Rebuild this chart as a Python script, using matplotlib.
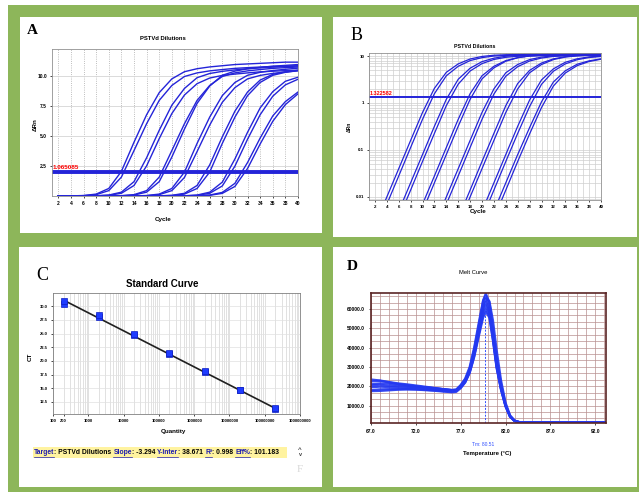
import numpy as np
import matplotlib
matplotlib.use('Agg')
import matplotlib.pyplot as plt
from matplotlib.patches import Rectangle
from matplotlib.lines import Line2D
from matplotlib.ticker import MultipleLocator, LogLocator, NullFormatter

plt.rcParams['font.family'] = ['Liberation Sans', 'DejaVu Sans']
plt.rcParams['font.weight'] = 'bold'

# ---- amplification data (panels A and B share the same run) ----
cycles = [2, 4, 6, 8, 10, 12, 14, 16, 18, 20, 22, 24, 26, 28, 30, 32, 34, 36, 38, 40]
drn_1a = [0.0025, 0.01, 0.04, 0.16, 0.63, 2.06, 4.5, 6.8, 8.65, 9.8, 10.4, 10.65, 10.8, 10.9, 11.0, 11.05, 11.1, 11.15, 11.2, 11.2]
drn_1b = [0.0018, 0.007, 0.028, 0.113, 0.45, 1.58, 3.8, 6.05, 8.0, 9.25, 10.0, 10.3, 10.47, 10.58, 10.68, 10.74, 10.79, 10.84, 10.87, 10.9]
drn_2a = [0.0003, 0.00125, 0.005, 0.02, 0.08, 0.32, 1.2, 3.2, 5.5, 7.6, 9.0, 9.9, 10.25, 10.43, 10.55, 10.65, 10.72, 10.78, 10.83, 10.87]
drn_2b = [0.0002, 0.0009, 0.0035, 0.014, 0.057, 0.226, 0.88, 2.52, 4.8, 6.9, 8.45, 9.4, 9.87, 10.09, 10.2, 10.3, 10.39, 10.44, 10.49, 10.53]
drn_3a = [0.0, 0.0001, 0.0004, 0.0018, 0.007, 0.028, 0.113, 0.45, 1.58, 3.8, 6.05, 8.0, 9.25, 10.0, 10.3, 10.47, 10.58, 10.68, 10.74, 10.79]
drn_3b = [0.0, 0.0001, 0.0003, 0.00125, 0.005, 0.02, 0.08, 0.32, 1.2, 3.26, 5.6, 7.75, 9.2, 10.1, 10.45, 10.64, 10.76, 10.86, 10.93, 11.0]
drn_4a = [0.0, 0.0, 0.0, 0.0001, 0.0006, 0.0025, 0.01, 0.04, 0.16, 0.63, 2.0, 4.4, 6.6, 8.4, 9.5, 10.1, 10.35, 10.5, 10.6, 10.7]
drn_4b = [0.0, 0.0, 0.0, 0.0001, 0.0004, 0.0018, 0.007, 0.028, 0.113, 0.45, 1.55, 3.72, 5.93, 7.84, 9.07, 9.8, 10.09, 10.26, 10.37, 10.47]
drn_5a = [0.0, 0.0, 0.0, 0.0, 0.0001, 0.0002, 0.0009, 0.0035, 0.014, 0.057, 0.226, 0.88, 2.6, 4.95, 7.1, 8.7, 9.7, 10.18, 10.4, 10.52]
drn_5b = [0.0, 0.0, 0.0, 0.0, 0.0, 0.0001, 0.0006, 0.0025, 0.01, 0.04, 0.16, 0.63, 2.0, 4.4, 6.6, 8.4, 9.5, 10.1, 10.35, 10.5]
drn_6a = [0.0, 0.0, 0.0, 0.0, 0.0, 0.0, 0.0001, 0.0003, 0.00125, 0.005, 0.02, 0.08, 0.32, 1.16, 3.1, 5.33, 7.37, 8.73, 9.6, 9.94]
drn_6b = [0.0, 0.0, 0.0, 0.0, 0.0, 0.0, 0.0, 0.0002, 0.0009, 0.0035, 0.014, 0.057, 0.226, 0.84, 2.5, 4.75, 6.8, 8.35, 9.3, 9.77]
drn_7a = [0.0, 0.0, 0.0, 0.0, 0.0, 0.0, 0.0, 0.0, 0.0003, 0.00125, 0.005, 0.02, 0.08, 0.3, 1.06, 2.8, 4.85, 6.7, 7.9, 8.7]
drn_7b = [0.0, 0.0, 0.0, 0.0, 0.0, 0.0, 0.0, 0.0, 0.0002, 0.0009, 0.0035, 0.014, 0.057, 0.22, 0.8, 2.3, 4.35, 6.25, 7.65, 8.55]
amp_curves = [drn_1a, drn_1b, drn_2a, drn_2b, drn_3a, drn_3b, drn_4a, drn_4b,
              drn_5a, drn_5b, drn_6a, drn_6b, drn_7a, drn_7b]
thr_a, thr_a_label = 2.0, '1.065085'
thr_b, thr_b_label = 1.322582, '1.322582'

# ---- standard curve ----
quantity = [200, 2000, 20000, 200000, 2000000, 20000000, 200000000]
ct_rep1 = [30.4, 28.0, 24.7, 21.2, 17.9, 14.6, 11.3]
ct_rep2 = [30.9, 28.3, 24.9, 21.4, 18.1, 14.7, 11.4]
slope, y_inter, r2, eff = -3.294, 38.671, 0.998, 101.183
q_ticks = [100, 200, 1000, 10000, 100000, 1000000, 10000000, 100000000, 1000000000]

# ---- melt curve ----
temps = [67, 68, 69, 70, 71, 72, 73, 74, 75, 76, 76.5, 77, 77.5, 78, 78.5, 79, 79.5, 79.8,
         80.2, 80.6, 81, 81.5, 82, 82.5, 83, 83.5, 84, 86, 90, 93.2]
melt_1 = [20500, 20800, 20300, 20000, 19800, 19500, 19200, 18800, 18300, 17800, 18000, 20500, 23500, 29000, 39000, 51000, 64000, 67000,
          60000, 46000, 31000, 19000, 10000, 4500, 2200, 1500, 1300, 1200, 1200, 1200]
melt_2 = [22500, 22800, 22000, 21200, 20600, 20000, 19500, 19000, 18500, 18000, 18200, 20200, 23000, 28000, 37500, 49000, 61000, 64000,
          58500, 45000, 30500, 18500, 9800, 4300, 2100, 1400, 1250, 1200, 1200, 1200]
melt_3 = [18000, 18400, 18500, 18600, 18500, 18400, 18200, 17900, 17500, 17200, 17500, 19500, 22500, 27500, 36000, 46500, 57000, 60000,
          56500, 44000, 30000, 18500, 9800, 4400, 2100, 1400, 1300, 1200, 1200, 1200]
melt_4 = [21000, 21500, 21300, 20800, 20300, 19900, 19500, 19000, 18500, 18000, 17900, 19300, 22000, 27000, 35500, 47500, 60000, 65500,
          64000, 54000, 39000, 23000, 11500, 5000, 2300, 1500, 1300, 1200, 1200, 1200]
melt_5 = [19500, 19800, 19600, 19400, 19200, 19000, 18700, 18300, 17900, 17500, 17700, 19800, 23000, 28500, 37500, 48500, 59000, 62000,
          58000, 46000, 32000, 19500, 10200, 4500, 2200, 1450, 1300, 1200, 1200, 1200]
melt_6 = [23500, 23000, 22200, 21500, 21000, 20400, 19800, 19200, 18600, 18100, 18300, 20600, 24000, 30000, 40000, 52500, 64500, 68000,
          63500, 50000, 35000, 21000, 10800, 4700, 2200, 1500, 1300, 1200, 1200, 1200]
melt_7 = [17500, 17600, 17900, 18200, 18400, 18300, 18000, 17700, 17300, 16900, 17100, 19000, 22000, 27000, 35000, 45500, 55500, 58500,
          55500, 43500, 29500, 18000, 9500, 4200, 2000, 1400, 1250, 1200, 1200, 1200]
melt_curves = [melt_1, melt_2, melt_3, melt_4, melt_5, melt_6, melt_7]
tm_line, tm_label = 79.7, 'Tm: 80.51'
melt_xticks = [67, 72, 77, 82, 87, 92]
melt_yticks = [10000, 20000, 30000, 40000, 50000, 60000]

W, H = 639, 492
green = '#8db65a'
blue = '#2424d8'

fig = plt.figure(figsize=(W / 100, H / 100), dpi=100)
fig.patch.set_facecolor('white')


def box(l, t, r, b, **kw):
    fig.add_artist(Rectangle((l / W, 1 - b / H), (r - l) / W, (b - t) / H,
                             transform=fig.transFigure, zorder=-5, **kw))


def axes_at(l, t, r, b):
    return fig.add_axes([l / W, 1 - b / H, (r - l) / W, (b - t) / H])


def put(x, y, s, **kw):
    kw.setdefault('ha', 'center')
    kw.setdefault('va', 'center')
    return fig.text(x / W, 1 - y / H, s, **kw)


# frame and white panels
box(8, 5, 639, 492, color=green, lw=0)
box(20, 17, 322, 233, color='white', lw=0)
box(333, 17, 637, 237, color='white', lw=0)
box(19, 247, 322, 487, color='white', lw=0)
box(333, 247, 637, 487, color='white', lw=0)

serif = ['Liberation Serif', 'DejaVu Serif']
put(32, 30, 'A', family=serif, fontsize=11, fontweight='bold')
put(357, 35, 'B', family=serif, fontsize=13, fontweight='normal')
put(42, 275, 'C', family=serif, fontsize=13, fontweight='normal')
put(352, 267, 'D', family=serif, fontsize=11, fontweight='bold')

# ---------------- panel A ----------------
axA = axes_at(52, 49, 298, 196)
for c in amp_curves:
    axA.plot(cycles, c, color=blue, lw=1.0)
axA.axhline(thr_a, color=blue, lw=2.8)
axA.text(1.05, thr_a + 0.15, thr_a_label, color='red', fontsize=4.5, va='bottom', ha='left')
axA.set_xlim(1, 40)
axA.set_ylim(0, 12.3)
axA.set_xticks(range(2, 41, 2))
axA.set_yticks([2.5, 5, 7.5, 10])
axA.set_yticklabels(['2.5', '5.0', '7.5', '10.0'])
axA.grid(axis='x', ls=':', color='#a8a8a8', lw=0.6)
axA.grid(axis='y', ls='-', color='#d4d4d4', lw=0.6)
axA.tick_params(labelsize=3.5, length=1.5, pad=2, width=0.5)
for s in axA.spines.values():
    s.set_color('#909090')
    s.set_linewidth(0.6)
put(163, 38, 'PSTVd Dilutions', fontsize=4.2)
put(163, 220, 'Cycle', fontsize=4.5)
put(35, 125, 'ΔRn', fontsize=4.5, rotation=90)

# ---------------- panel B ----------------
axB = axes_at(369, 53, 601, 200)
axB.set_yscale('log', nonpositive='mask')
for c in amp_curves:
    axB.plot(cycles, c, color=blue, lw=0.9)
axB.axhline(thr_b, color=blue, lw=1.4)
axB.text(1.05, thr_b * 1.05, thr_b_label, color='red', fontsize=4, va='bottom', ha='left')
axB.set_xlim(1, 40)
axB.set_ylim(0.0086, 11.6)
axB.set_xticks(range(2, 41, 2))
axB.xaxis.set_minor_locator(MultipleLocator(1))
axB.set_yticks([0.01, 0.1, 1, 10])
axB.set_yticklabels(['0.01', '0.1', '1', '10'])
axB.yaxis.set_minor_locator(LogLocator(base=10, subs=np.arange(2, 10)))
axB.yaxis.set_minor_formatter(NullFormatter())
axB.grid(which='both', color='#cfcfcf', lw=0.5)
axB.tick_params(which='major', labelsize=3.2, length=1.5, pad=2, width=0.5)
axB.tick_params(which='minor', length=0)
for s in axB.spines.values():
    s.set_color('#909090')
    s.set_linewidth(0.6)
put(475, 47, 'PSTVd Dilutions', fontsize=3.8)
put(478, 212, 'Cycle', fontsize=4.5)
put(349, 127, 'ΔRn', fontsize=3.5, rotation=90)

# ---------------- panel C ----------------
axC = axes_at(53, 293, 300, 414)
axC.set_xscale('log')
q_line = [quantity[0], quantity[-1]]
ct_line = [y_inter + slope * np.log10(q) for q in q_line]
axC.plot(q_line, ct_line, color='#202020', lw=1.2, zorder=3)
axC.plot(quantity, ct_rep1, 's', color='#1f3cff', mec='#1020c0', mew=0.5, ms=4.5, zorder=4)
axC.plot(quantity, ct_rep2, 's', color='#1f3cff', mec='#1020c0', mew=0.5, ms=4.5, zorder=4)
axC.set_xlim(100, 1e9)
axC.set_ylim(10.3, 32.4)
axC.set_xticks(q_ticks)
axC.set_xticklabels([str(q) for q in q_ticks])
axC.xaxis.set_minor_locator(LogLocator(base=10, subs=np.arange(2, 10)))
axC.xaxis.set_minor_formatter(NullFormatter())
axC.set_yticks([12.5, 15, 17.5, 20, 22.5, 25, 27.5, 30])
axC.set_yticklabels(['12.5', '15.0', '17.5', '20.0', '22.5', '25.0', '27.5', '30.0'])
axC.grid(which='both', axis='x', color='#d4d4d4', lw=0.5)
axC.grid(axis='y', color='#e0e0e0', lw=0.5)
axC.tick_params(which='major', labelsize=3.0, length=1.5, pad=2, width=0.5)
axC.tick_params(which='minor', length=0)
for s in axC.spines.values():
    s.set_color('#808080')
    s.set_linewidth(0.6)
put(162, 284, 'Standard Curve', fontsize=7)
put(173, 432, 'Quantity', fontsize=4.5)
put(30, 357, 'CT', fontsize=4.5, rotation=90)

# info bar under the standard curve
box(33, 447, 287, 458, color='#fff3a0', lw=0)
pieces = [('Target', True), (': PSTVd Dilutions ', False),
          ('Slope', True), (': %.3f ' % slope, False),
          ('Y-Inter', True), (': %.3f ' % y_inter, False),
          ('R²', True), (': %.3f ' % r2, False),
          ('Eff%', True), (': %.3f' % eff, False)]
fig.canvas.draw()
rend = fig.canvas.get_renderer()
xpos = 34
for s, link in pieces:
    t = put(xpos, 452.5, s, ha='left', fontsize=4.9, color='#1a1ab0' if link else 'black')
    w = t.get_window_extent(renderer=rend).width
    if link:
        fig.add_artist(Line2D([xpos / W, (xpos + w) / W], [1 - 456.5 / H] * 2,
                              transform=fig.transFigure, color='#1a1ab0', lw=0.5))
    xpos += w
put(300, 449.5, '^', fontsize=4.5, color='#404040')
put(300, 455, 'v', fontsize=4, color='#404040')
put(300, 470, 'F', family=serif, fontsize=8, fontweight='normal', color='#d8d8d8')

# ---------------- panel D ----------------
axD = axes_at(371, 293, 606, 423)
for c in melt_curves:
    axD.plot(temps, c, color='#2438f0', lw=1.6, alpha=0.9)
axD.axvline(tm_line, ls='--', color='#3050ff', lw=0.7, dashes=(2, 1.5))
axD.set_xlim(67, 93.2)
axD.set_ylim(1000, 68250)
axD.set_xticks(melt_xticks)
axD.set_xticklabels(['%.1f' % v for v in melt_xticks])
axD.set_yticks(melt_yticks)
axD.set_yticklabels(['%.1f' % v for v in melt_yticks])
axD.xaxis.set_minor_locator(MultipleLocator(1))
axD.yaxis.set_minor_locator(MultipleLocator(10000 / 3))
axD.grid(which='both', color='#b89090', lw=0.5)
axD.set_axisbelow(True)
axD.tick_params(which='major', labelsize=3.5, length=1.5, pad=3, width=0.5)
axD.tick_params(which='minor', length=0)
for s in axD.spines.values():
    s.set_color('#5a2525')
    s.set_linewidth(1.2)
put(473, 273, 'Melt Curve', fontsize=4.2, fontweight='normal')
put(483, 444, tm_label, fontsize=3.5, color='#3050ff', fontweight='normal')
put(487, 453, 'Temperature (°C)', fontsize=4.3)

fig.savefig('out.png', dpi=100)
